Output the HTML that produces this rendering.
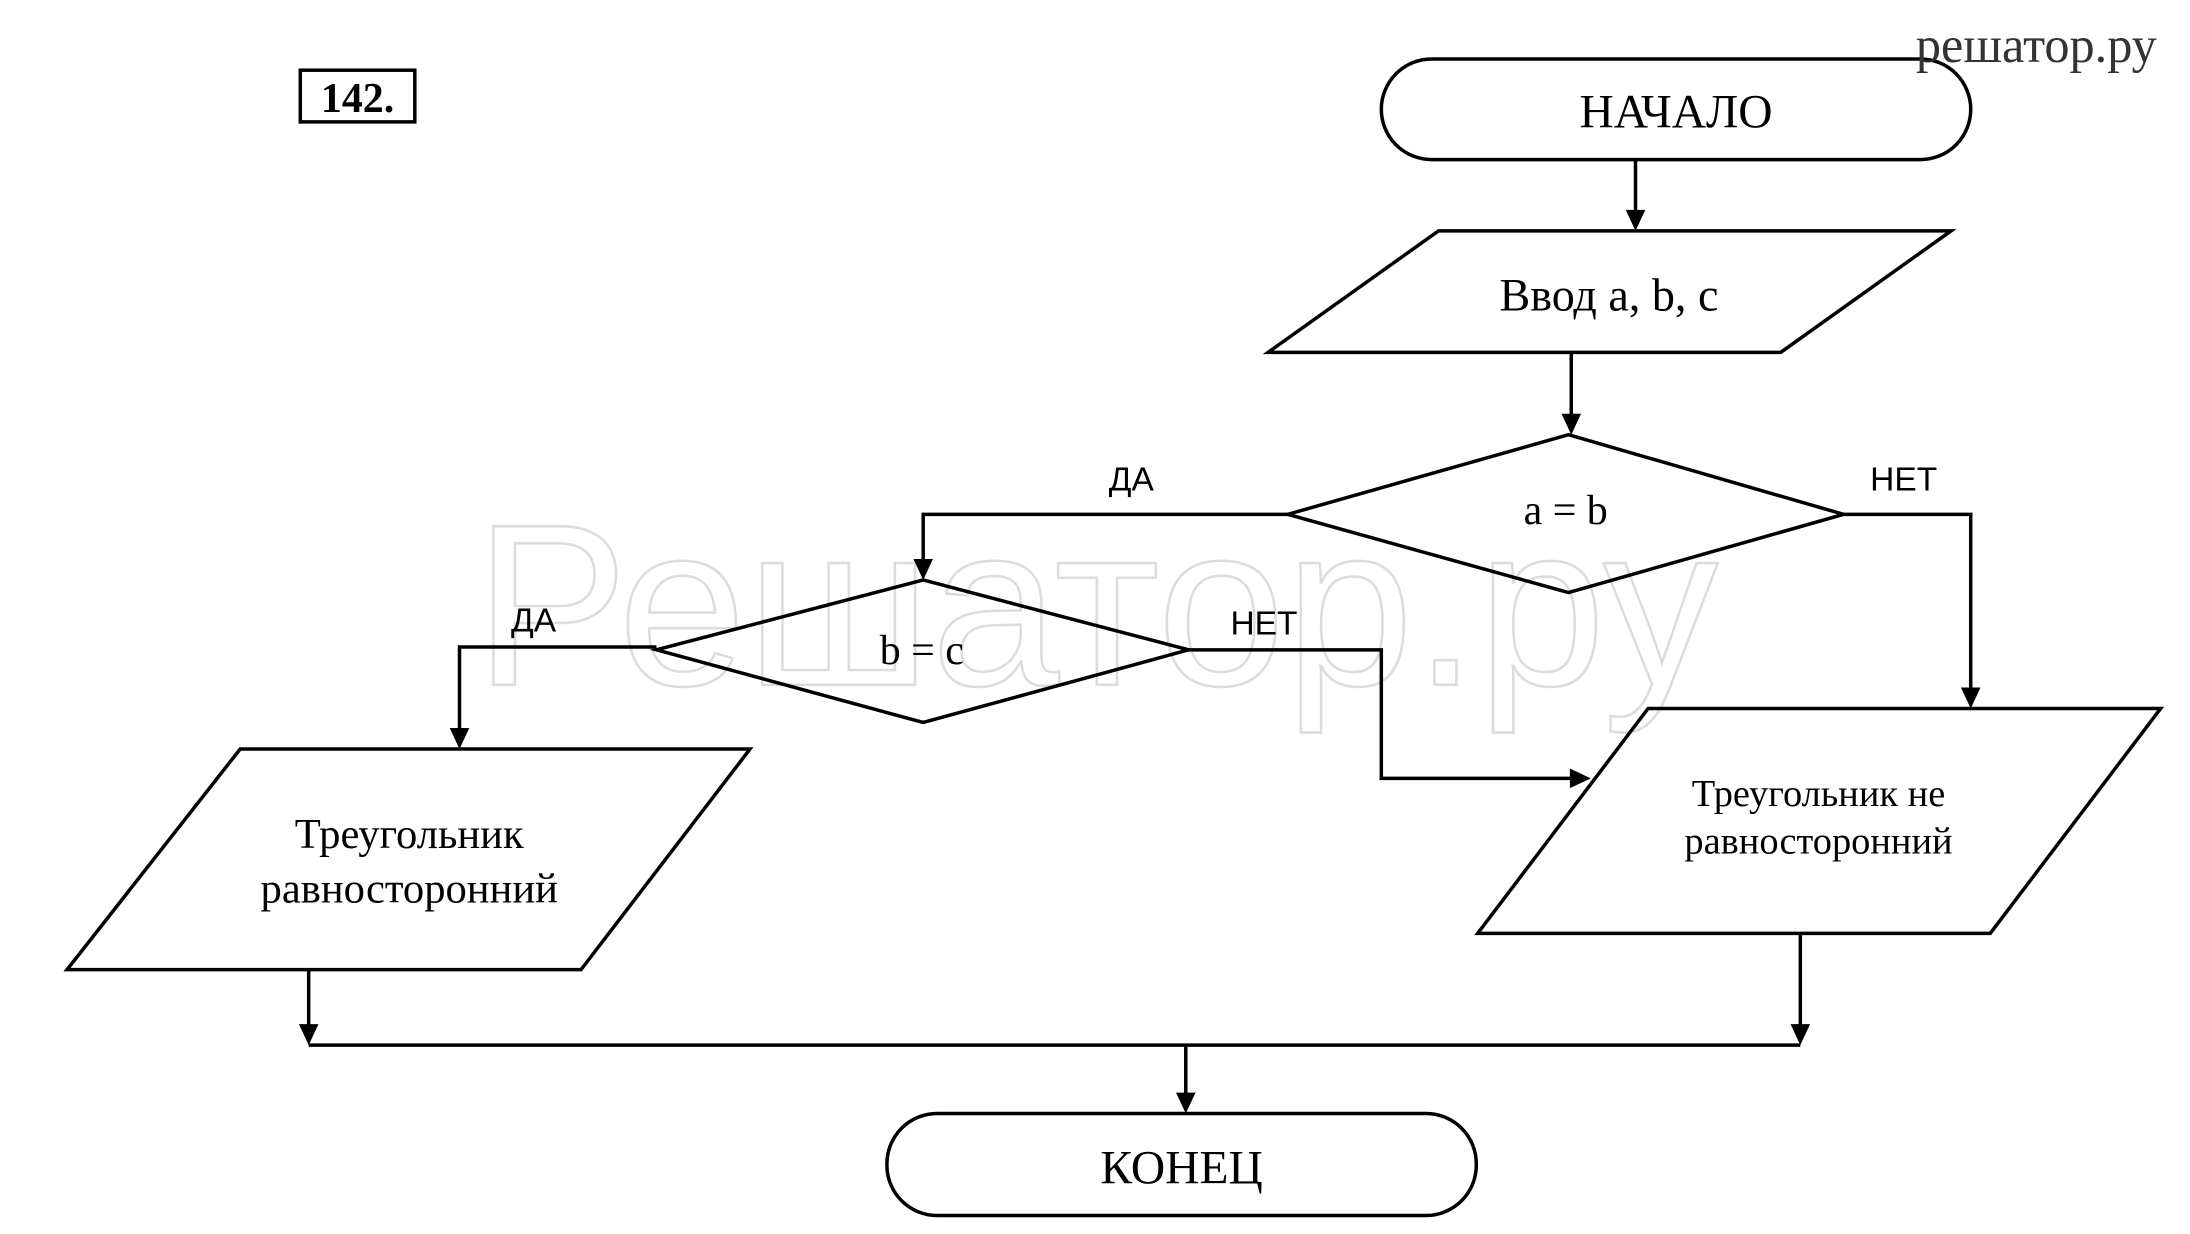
<!DOCTYPE html>
<html><head><meta charset="utf-8"><style>
html,body{margin:0;padding:0;background:#fff;}
svg{display:block;}
</style></head><body>
<svg width="2190" height="1234" viewBox="0 0 1568 883" xmlns="http://www.w3.org/2000/svg">
<rect width="1568" height="883" fill="#fff"/>
<text x="785" y="490" text-anchor="middle" font-family="Liberation Sans, sans-serif" font-size="165" fill="none" stroke="#dcdcdc" stroke-width="1.8">Решатор.ру</text>
<g fill="none" stroke="#000" stroke-width="2.5">
<rect x="215" y="50" width="82" height="37"/>
<rect x="989" y="42" width="422" height="72" rx="36"/>
<polygon points="1030,165 1397,165 1275,252 908,252"/>
<polygon points="1123,311 1320,368 1123,424 922,368"/>
<polygon points="661,415 851,465 661,517 470,465"/>
<polygon points="172,536 537,536 416,694 48,694"/>
<polygon points="1180,507 1547,507 1425,668 1058,668"/>
<rect x="635" y="797" width="422" height="73" rx="36"/>
<polyline points="1171,114 1171,152"/>
<polyline points="1125,252 1125,298"/>
<polyline points="922,368 661,368 661,402"/>
<polyline points="1320,368 1411,368 1411,494"/>
<polyline points="470,463 329,463 329,523"/>
<polyline points="851,465 989,465 989,557 1126,557"/>
<polyline points="221,694 221,735"/>
<polyline points="1289,668 1289,735"/>
<polyline points="221,748 1289,748"/>
<polyline points="849,748 849,784"/>
</g>
<g fill="#000">
<polygon points="1164,150 1178,150 1171,165"/>
<polygon points="1118,296 1132,296 1125,311"/>
<polygon points="654,400 668,400 661,415"/>
<polygon points="1404,492 1418,492 1411,507"/>
<polygon points="322,521 336,521 329,536"/>
<polygon points="1124,550 1124,564 1139,557"/>
<polygon points="214,733 228,733 221,748"/>
<polygon points="1282,733 1296,733 1289,748"/>
<polygon points="842,782 856,782 849,797"/>
</g>
<g font-family="Liberation Serif, serif" fill="#000" text-anchor="middle">
<text x="256" y="80" font-size="30" font-weight="bold">142.</text>
<text x="1458" y="44" font-size="36" fill="#333">решатор.ру</text>
<text x="1200" y="91" font-size="34">НАЧАЛО</text>
<text x="1152" y="222" font-size="33">Ввод a, b, c</text>
<text x="1121" y="375" font-size="30">a = b</text>
<text x="660" y="475" font-size="30">b = c</text>
<text x="293" y="607" font-size="30.5">Треугольник</text>
<text x="293" y="646" font-size="30.5">равносторонний</text>
<text x="1302" y="577" font-size="27.5">Треугольник не</text>
<text x="1302" y="611" font-size="27.5">равносторонний</text>
<text x="846" y="847" font-size="34">КОНЕЦ</text>
</g>
<g font-family="Liberation Sans, sans-serif" font-size="24" fill="#000" text-anchor="middle">
<text x="810" y="351">ДА</text>
<text x="1363" y="351">НЕТ</text>
<text x="382" y="452">ДА</text>
<text x="905" y="454">НЕТ</text>
</g>
</svg>
</body></html>
